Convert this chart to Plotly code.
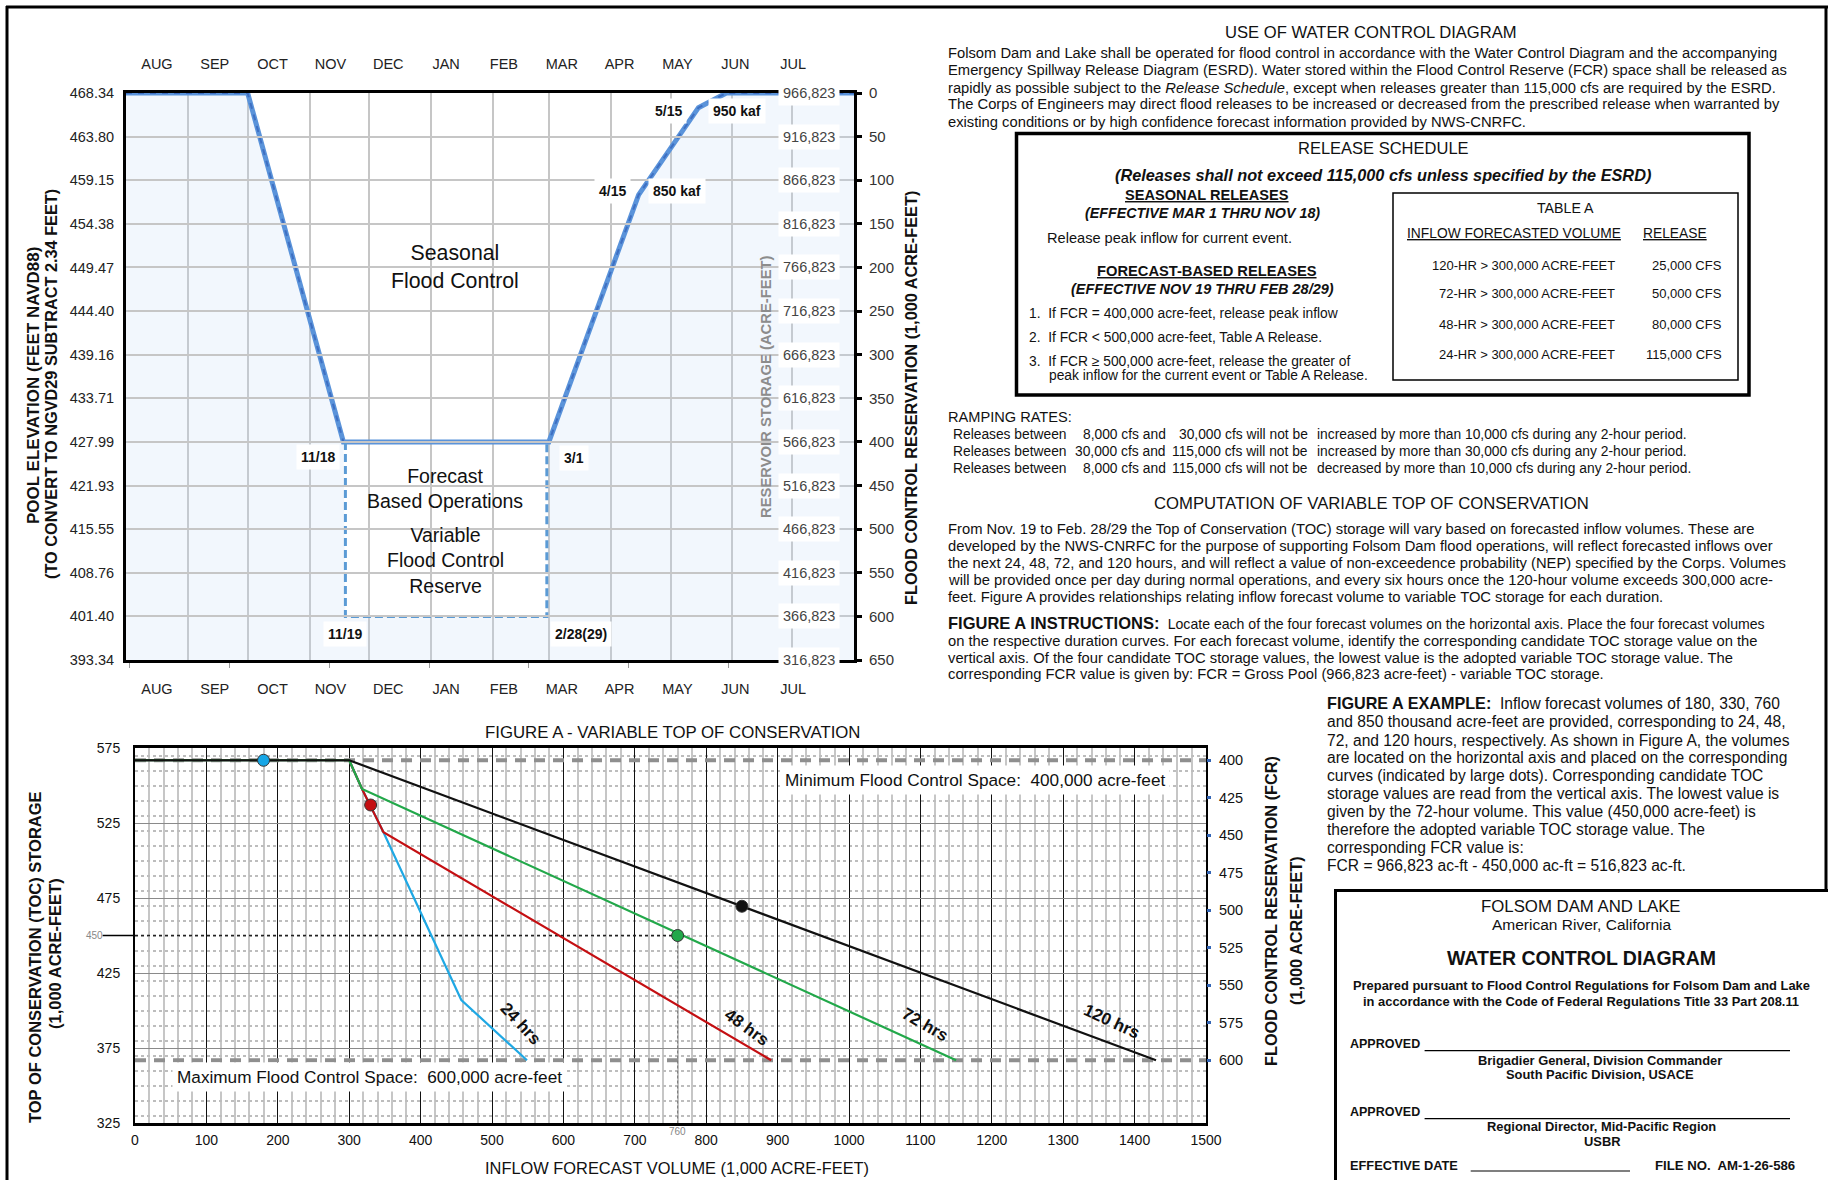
import plotly.graph_objects as go

W, H = 1828, 1180
SANS = "Liberation Sans, Arial, sans-serif"
GROSS_POOL_KAF = 966.823          # gross pool storage, 1,000 acre-feet

# ---------------- Water control diagram (top) ----------------
MONTHS = ["AUG", "SEP", "OCT", "NOV", "DEC", "JAN", "FEB", "MAR", "APR", "MAY", "JUN", "JUL"]
toc_dates = ["2022-08-01", "2022-10-01", "2022-11-18", "2023-03-01",
             "2023-04-15", "2023-05-15", "2023-05-29", "2023-08-01"]
toc_storage_kaf = [966.823, 966.823, 566.823, 566.823, 850.0, 950.0, 966.823, 966.823]
variable_dates = ["2022-11-19", "2023-02-28"]
variable_min_storage_kaf = 366.823
fcr_ticks_kaf = list(range(0, 651, 50))
elevation_labels = ["468.34", "463.80", "459.15", "454.38", "449.47", "444.40", "439.16",
                    "433.71", "427.99", "421.93", "415.55", "408.76", "401.40", "393.34"]

# ---------------- Figure A: variable top of conservation ----------------
inflow_24 = [0, 300, 318, 348, 457, 549]
toc_24 = [566.823, 566.823, 547.7, 518.8, 407.0, 366.823]
inflow_48 = [0, 300, 318, 348, 891]
toc_48 = [566.823, 566.823, 547.7, 518.8, 366.823]
inflow_72 = [0, 300, 318, 1150]
toc_72 = [566.823, 566.823, 547.7, 366.823]
inflow_120 = [0, 300, 1430]
toc_120 = [566.823, 566.823, 366.823]
example_volume = [180, 330, 760, 850]
example_toc = [566.823, 537.0, 450.0, 469.5]
fcr_limits_kaf = [400, 600]
fcr_a_ticks = list(range(400, 601, 25))
adopted_toc = 450
adopted_volume = 760

fcr_kaf = [round(GROSS_POOL_KAF - s, 3) for s in toc_storage_kaf]
variable_fcr = round(GROSS_POOL_KAF - variable_min_storage_kaf, 3)
storage_labels = [f"{int(round((GROSS_POOL_KAF - f) * 1000)):,}" for f in fcr_ticks_kaf]
FCR_MAX = fcr_ticks_kaf[-1]


def X(px):
    return px / W


def Y(py):
    return 1 - py / H


fig = go.Figure()

# conservation pool shading below the top-of-conservation curve
fill_x = toc_dates[:3] + variable_dates + toc_dates[3:] + [toc_dates[-1], toc_dates[0]]
fill_y = fcr_kaf[:3] + [variable_fcr, variable_fcr] + fcr_kaf[3:] + [FCR_MAX, FCR_MAX]
fig.add_trace(go.Scatter(x=fill_x, y=fill_y, fill="toself", mode="none",
                         fillcolor="rgba(196,220,248,0.22)", hoverinfo="skip"))
# top of conservation curve
fig.add_trace(go.Scatter(x=toc_dates, y=fcr_kaf, mode="lines",
                         line=dict(color="#5a93da", width=5), hoverinfo="skip"))
fig.add_trace(go.Scatter(x=toc_dates, y=fcr_kaf, mode="lines",
                         line=dict(color="#3e6fc2", width=2, dash="6px,6px"), hoverinfo="skip"))
# variable flood control reserve box
fig.add_trace(go.Scatter(x=[variable_dates[0], variable_dates[0], variable_dates[1], variable_dates[1]],
                         y=[fcr_kaf[2], variable_fcr, variable_fcr, fcr_kaf[3]], mode="lines",
                         line=dict(color="#5b9bd5", width=3, dash="8px,4px"), hoverinfo="skip"))
# axis carriers
fig.add_trace(go.Scatter(x=[toc_dates[0]], y=[None], yaxis="y2", hoverinfo="skip"))
fig.add_trace(go.Scatter(x=[0], y=[None], xaxis="x3", yaxis="y", hoverinfo="skip"))
fig.add_trace(go.Scatter(x=[0], y=[None], xaxis="x4", yaxis="y", hoverinfo="skip"))

# ---------------- Figure A traces ----------------
for f in fcr_limits_kaf:
    fig.add_trace(go.Scatter(x=[0, 1500], y=[GROSS_POOL_KAF - f] * 2, xaxis="x2", yaxis="y3",
                             mode="lines", line=dict(color="#8f8f8f", width=4, dash="11px,8px"),
                             hoverinfo="skip"))
fig.add_trace(go.Scatter(x=[0, adopted_volume], y=[adopted_toc, adopted_toc], xaxis="x2", yaxis="y3",
                         mode="lines", line=dict(color="#222", width=1.6, dash="dot"), hoverinfo="skip"))
fig.add_trace(go.Scatter(x=[adopted_volume, adopted_volume], y=[adopted_toc, 325], xaxis="x2", yaxis="y3",
                         mode="lines", line=dict(color="#777", width=1, dash="3px,2px"), hoverinfo="skip"))
curves = [(inflow_24, toc_24, "#1fa8e4"), (inflow_48, toc_48, "#c40f12"),
          (inflow_72, toc_72, "#22a84a"), (inflow_120, toc_120, "#111111")]
for xs, ys, c in curves:
    fig.add_trace(go.Scatter(x=xs, y=ys, xaxis="x2", yaxis="y3", mode="lines",
                             line=dict(color=c, width=2.2), hoverinfo="skip"))
fig.add_trace(go.Scatter(x=example_volume, y=example_toc, xaxis="x2", yaxis="y3", mode="markers",
                         marker=dict(size=12, color=["#16a6e6", "#c40f12", "#22a84a", "#111111"],
                                     line=dict(color="#333", width=1)), hoverinfo="skip"))
fig.add_trace(go.Scatter(x=[0], y=[None], xaxis="x2", yaxis="y4", hoverinfo="skip"))

ann = []


def label(x, y, text, size=14.75, color="#111", anchor="left", yanchor="middle", angle=0, **kw):
    ann.append(dict(x=X(x), y=Y(y), xref="paper", yref="paper", text=text, showarrow=False,
                    xanchor=anchor, yanchor=yanchor, textangle=angle,
                    font=dict(family=SANS, size=size, color=color), **kw))


def data_label(x, y, text, xref, yref, size=14, bold=True, bg=None, **kw):
    d = dict(x=x, y=y, xref=xref, yref=yref, text=f"<b>{text}</b>" if bold else text,
             showarrow=False, font=dict(family=SANS, size=size, color="#111"), **kw)
    if bg:
        d.update(bgcolor=bg, borderpad=4)
    ann.append(d)


# ---- top diagram labels ----
data_label("2023-01-13", 200, "Seasonal<br>Flood Control", "x", "y", size=21.3, bold=False)
data_label("2023-01-08", 453, "Forecast<br>Based Operations", "x", "y", size=19.5, bold=False)
data_label("2023-01-08", 536, "Variable<br>Flood Control<br>Reserve", "x", "y", size=19.5, bold=False)
data_label(toc_dates[2], fcr_kaf[2], "11/18", "x", "y", bg="white", xanchor="right", yanchor="top",
           xshift=-3, yshift=-2)
data_label(toc_dates[3], fcr_kaf[3], "3/1", "x", "y", bg="white", xanchor="left", yanchor="top",
           xshift=10, yshift=-3)
data_label(variable_dates[0], variable_fcr, "11/19", "x", "y", bg="white", xanchor="center",
           yanchor="top", yshift=-5)
data_label(variable_dates[1], variable_fcr, "2/28(29)", "x", "y", bg="white", xanchor="left",
           yanchor="top", xshift=3, yshift=-5)
data_label(toc_dates[4], fcr_kaf[4], "4/15", "x", "y", bg="white", xanchor="right", xshift=-8, yshift=4)
data_label(toc_dates[4], fcr_kaf[4], f"{toc_storage_kaf[4]:.0f} kaf", "x", "y", bg="white",
           xanchor="left", xshift=9, yshift=4)
data_label(toc_dates[5], fcr_kaf[5], "5/15", "x", "y", bg="white", xanchor="right", xshift=-11, yshift=-3)
data_label(toc_dates[5], fcr_kaf[5], f"{toc_storage_kaf[5]:.0f} kaf", "x", "y", bg="white",
           xanchor="left", xshift=10, yshift=-3)
for f, s in zip(fcr_ticks_kaf, storage_labels):
    ann.append(dict(x=X(809), y=f, xref="paper", yref="y", text=s, showarrow=False,
                    font=dict(family=SANS, size=14.5, color="#444"), bgcolor="white", borderpad=4))

label(33, 386, "<b>POOL ELEVATION (FEET NAVD88)</b>", 17, anchor="center", angle=-90)
label(51, 384, "<b>(TO CONVERT TO NGVD29 SUBTRACT 2.34 FEET)</b>", 16.3, anchor="center", angle=-90)
label(766, 387, "<b>RESERVOIR STORAGE (ACRE-FEET)</b>", 14.8, color="#8c8c8c", anchor="center", angle=-90)
label(911, 398, "<b>FLOOD CONTROL RESERVATION (1,000 ACRE-FEET)</b>", 16.3, anchor="center", angle=-90)

# ---- Figure A labels ----
label(673, 732, "FIGURE A - VARIABLE TOP OF CONSERVATION", 16.8, anchor="center")
label(677, 1168, "INFLOW FORECAST VOLUME (1,000 ACRE-FEET)", 16.4, anchor="center")
label(35, 957, "<b>TOP OF CONSERVATION (TOC) STORAGE</b>", 16.5, anchor="center", angle=-90)
label(55, 954, "<b>(1,000 ACRE-FEET)</b>", 16.5, anchor="center", angle=-90)
label(1271, 911, "<b>FLOOD CONTROL RESERVATION (FCR)</b>", 16.3, anchor="center", angle=-90)
label(1296, 931, "<b>(1,000 ACRE-FEET)</b>", 16.3, anchor="center", angle=-90)
data_label(1176, 553.7, "Minimum Flood Control Space:\u00a0 400,000 acre-feet", "x2", "y3",
           size=17.2, bold=False, bg="white")
data_label(328.5, 355.7, "Maximum Flood Control Space:\u00a0 600,000 acre-feet", "x2", "y3",
           size=17.2, bold=False, bg="white")
data_label(540, 391.5, "24 hrs", "x2", "y3", size=17, textangle=47)
data_label(857, 389, "48 hrs", "x2", "y3", size=17, textangle=36)
data_label(1106, 390.5, "72 hrs", "x2", "y3", size=17, textangle=30)
data_label(1368, 392.8, "120 hrs", "x2", "y3", size=17, textangle=25)
ann.append(dict(x=X(84), y=adopted_toc, xref="paper", yref="y3", text=str(adopted_toc), showarrow=False,
                font=dict(family=SANS, size=10, color="#888")))
ann.append(dict(x=adopted_volume, y=325, xref="x2", yref="y3", text=str(adopted_volume), showarrow=False,
                yanchor="top", yshift=-1, font=dict(family=SANS, size=10, color="#888")))

# ---- use of water control diagram ----
NB = "\u00a0"
label(1371, 32, "USE OF WATER CONTROL DIAGRAM", 16.6, anchor="center")
use_lines = [
    "Folsom Dam and Lake shall be operated for flood control in accordance with the Water Control Diagram and the accompanying",
    "Emergency Spillway Release Diagram (ESRD). Water stored within the Flood Control Reserve (FCR) space shall be released as",
    "rapidly as possible subject to the <i>Release Schedule</i>, except when releases greater than 115,000 cfs are required by the ESRD.",
    "The Corps of Engineers may direct flood releases to be increased or decreased from the prescribed release when warranted by",
    "existing conditions or by high confidence forecast information provided by NWS-CNRFC.",
]
for yy, t in zip([53, 70.5, 87.5, 104.5, 121.5], use_lines):
    label(946, yy, t)

# ---- release schedule ----
label(1383.6, 148, "RELEASE SCHEDULE", 16.5, anchor="center")
label(1383, 175, "<b><i>(Releases shall not exceed 115,000 cfs unless specified by the ESRD)</i></b>", 16.3, anchor="center")
label(1207, 195, "<b><u>SEASONAL RELEASES</u></b>", 14.6, anchor="center")
label(1202, 213, "<b><i>(EFFECTIVE MAR 1 THRU NOV 18)</i></b>", 14.3, anchor="center")
label(1044.5, 238, "Release peak inflow for current event.", 14.6)
label(1206.6, 271, "<b><u>FORECAST-BASED RELEASES</u></b>", 14.7, anchor="center")
label(1202.6, 289, "<b><i>(EFFECTIVE NOV 19 THRU FEB 28/29)</i></b>", 14.5, anchor="center")
label(1027, 313, f"1.{NB} If FCR = 400,000 acre-feet, release peak inflow", 13.8)
label(1027, 337, f"2.{NB} If FCR &lt; 500,000 acre-feet, Table A Release.", 13.8)
label(1027, 361, f"3.{NB} If FCR ≥ 500,000 acre-feet, release the greater of", 13.8)
label(1047, 376, "peak inflow for the current event or Table A Release.", 13.8)

table_volumes = ["120-HR > 300,000 ACRE-FEET", "72-HR > 300,000 ACRE-FEET",
                 "48-HR > 300,000 ACRE-FEET", "24-HR > 300,000 ACRE-FEET"]
table_releases = ["25,000 CFS", "50,000 CFS", "80,000 CFS", "115,000 CFS"]
label(1565.7, 208, "TABLE A", 14.2, anchor="center")
label(1513.6, 233, "<u>INFLOW FORECASTED VOLUME</u>", 13.8, anchor="center")
label(1674.5, 233, "<u>RELEASE</u>", 13.8, anchor="center")
for yy, v, r in zip([265, 294, 324, 354], table_volumes, table_releases):
    label(1617, yy, v.replace(">", "&gt;"), 13, anchor="right")
    label(1724.4, yy, r, 13, anchor="right")

# ---- ramping rates ----
label(946, 417, "RAMPING RATES:", 14.6)
ramp_rows = [("8,000 cfs and", "30,000 cfs will not be", "increased by more than 10,000 cfs during any 2-hour period."),
             ("30,000 cfs and", "115,000 cfs will not be", "increased by more than 30,000 cfs during any 2-hour period."),
             ("8,000 cfs and", "115,000 cfs will not be", "decreased by more than 10,000 cfs during any 2-hour period.")]
for yy, (a, b, c) in zip([434.7, 451.7, 468.3], ramp_rows):
    label(950.6, yy, "Releases between", 13.8)
    label(1167.7, yy, a, 13.8, anchor="right")
    label(1309.7, yy, b, 13.8, anchor="right")
    label(1315, yy, c, 13.8)

# ---- computation of variable TOC ----
label(1371, 504, "COMPUTATION OF VARIABLE TOP OF CONSERVATION", 16.7, anchor="center")
comp_lines = [
    "From Nov. 19 to Feb. 28/29 the Top of Conservation (TOC) storage will vary based on forecasted inflow volumes. These are",
    "developed by the NWS-CNRFC for the purpose of supporting Folsom Dam flood operations, will reflect forecasted inflows over",
    "the next 24, 48, 72, and 120 hours, and will reflect a value of non-exceedence probability (NEP) specified by the Corps. Volumes",
    "will be provided once per day during normal operations, and every six hours once the 120-hour volume exceeds 300,000 acre-",
    "feet. Figure A provides relationships relating inflow forecast volume to variable TOC storage for each duration.",
]
for yy, t in zip([529.3, 546, 563.3, 580.3, 597.3], comp_lines):
    label(946, yy, t)
instr_lines = [
    f"<span style='font-size:16.5px'><b>FIGURE A INSTRUCTIONS:</b></span>{NB} <span style='font-size:14.1px'>Locate each of the four forecast volumes on the horizontal axis. Place the four forecast volumes</span>",
    "on the respective duration curves. For each forecast volume, identify the corresponding candidate TOC storage value on the",
    "vertical axis. Of the four candidate TOC storage values, the lowest value is the adopted variable TOC storage value. The",
    "corresponding FCR value is given by: FCR = Gross Pool (966,823 acre-feet) - variable TOC storage.",
]
for yy, t in zip([622.7, 640.7, 657.7, 674.3], instr_lines):
    label(946, yy, t)

example_lines = [
    f"<span style='font-size:16.2px'><b>FIGURE A EXAMPLE:</b></span>{NB} Inflow forecast volumes of 180, 330, 760",
    "and 850 thousand acre-feet are provided, corresponding to 24, 48,",
    "72, and 120 hours, respectively. As shown in Figure A, the volumes",
    "are located on the horizontal axis and placed on the corresponding",
    "curves (indicated by large dots). Corresponding candidate TOC",
    "storage values are read from the vertical axis. The lowest value is",
    "given by the 72-hour volume. This value (450,000 acre-feet) is",
    "therefore the adopted variable TOC storage value. The",
    "corresponding FCR value is:",
    "FCR = 966,823 ac-ft - 450,000 ac-ft = 516,823 ac-ft.",
]
for yy, t in zip([703.3, 721.7, 740, 757.7, 775.7, 793.3, 811.7, 829.3, 847.3, 865], example_lines):
    label(1325.3, yy, t, 15.6)

# ---- title block ----
label(1581, 906, "FOLSOM DAM AND LAKE", 16.8, anchor="center")
label(1582, 924, "American River, California", 15.5, anchor="center")
label(1581, 958, "<b>WATER CONTROL DIAGRAM</b>", 19.5, anchor="center")
label(1581, 985.7, "<b>Prepared pursuant to Flood Control Regulations for Folsom Dam and Lake</b>", 12.9, anchor="center")
label(1581, 1001, "<b>in accordance with the Code of Federal Regulations Title 33 Part 208.11</b>", 12.9, anchor="center")
label(1348, 1044.3, "<b>APPROVED</b>", 12.5)
label(1600, 1060, "<b>Brigadier General, Division Commander</b>", 12.9, anchor="center")
label(1600, 1074.3, "<b>South Pacific Division, USACE</b>", 12.9, anchor="center")
label(1348, 1112.3, "<b>APPROVED</b>", 12.5)
label(1601, 1126.7, "<b>Regional Director, Mid-Pacific Region</b>", 12.9, anchor="center")
label(1602, 1141.7, "<b>USBR</b>", 12.9, anchor="center")
label(1348, 1165, "<b>EFFECTIVE DATE</b>", 12.8)
label(1653, 1165, f"<b>FILE NO.{NB} AM-1-26-586</b>", 13.2)

shapes = []


def pline(x0, y0, x1, y1, w=1.2):
    shapes.append(dict(type="line", xref="paper", yref="paper", x0=X(x0), y0=Y(y0), x1=X(x1), y1=Y(y1),
                       line=dict(color="black", width=w)))


def prect(x0, y0, x1, y1, w):
    shapes.append(dict(type="rect", xref="paper", yref="paper", x0=X(x0), y0=Y(y0), x1=X(x1), y1=Y(y1),
                       line=dict(color="black", width=w)))


pline(6, 7, 1828, 7, 3)
pline(7, 6, 7, 1180, 3)
pline(1826, 6, 1826, 890, 3)
prect(1335.5, 890.5, 1840, 1195, 3)
prect(1016.5, 133.5, 1749, 395, 3.5)
prect(1393, 193, 1738, 380, 1.5)
pline(1424.6, 1050.7, 1790, 1050.7)
pline(1424.6, 1118.7, 1790, 1118.7)
pline(1470.7, 1171, 1630, 1171)
shapes.append(dict(type="line", xref="paper", yref="y3", x0=X(102.6), x1=X(135), y0=adopted_toc,
                   y1=adopted_toc, line=dict(color="black", width=1.5)))

grid_c = "#c6c6c6"
fig.update_layout(
    width=W, height=H, margin=dict(l=0, r=0, t=0, b=0, autoexpand=False),
    paper_bgcolor="white", plot_bgcolor="rgba(0,0,0,0)", showlegend=False,
    font=dict(family=SANS, color="#111"),
    annotations=ann, shapes=shapes,
    xaxis=dict(domain=[X(126), X(854)], type="date", range=["2022-08-01", "2023-08-01"],
               tick0="2022-08-01", dtick="M1", showticklabels=False, ticks="", automargin=False,
               showgrid=True, gridcolor=grid_c, gridwidth=1.5, zeroline=False,
               showline=True, linecolor="black", linewidth=3, mirror=True, anchor="y",
               minor=dict(dtick=50 * 86400000, ticks="outside", ticklen=5, tickcolor="#999",
                          showgrid=False)),
    yaxis=dict(domain=[Y(660), Y(93)], range=[FCR_MAX, 0], tickvals=fcr_ticks_kaf, automargin=False,
               ticktext=elevation_labels, ticks="", ticklabelstandoff=6,
               tickfont=dict(size=14.5, color="#222"), showgrid=True, gridcolor=grid_c, gridwidth=1.5,
               zeroline=False, showline=True, linecolor="black", linewidth=3, anchor="x"),
    yaxis2=dict(overlaying="y", side="right", anchor="x", range=[FCR_MAX, 0], tickvals=fcr_ticks_kaf,
                ticktext=[str(v) for v in fcr_ticks_kaf], ticks="outside", ticklen=5, tickwidth=3,
                tickcolor="black", ticklabelstandoff=4, tickfont=dict(size=15, color="#333"),
                automargin=False, showgrid=False, zeroline=False, showline=True, linecolor="black",
                linewidth=3),
    xaxis3=dict(domain=[X(128), X(822)], anchor="free", position=Y(71.5), side="top",
                range=[-0.5, 11.5], tickvals=list(range(12)), ticktext=MONTHS, ticks="",
                automargin=False, showgrid=False, zeroline=False, showline=False,
                tickfont=dict(size=14.5, color="#222")),
    xaxis4=dict(domain=[X(128), X(822)], anchor="free", position=Y(678), side="bottom",
                range=[-0.5, 11.5], tickvals=list(range(12)), ticktext=MONTHS, ticks="",
                automargin=False, showgrid=False, zeroline=False, showline=False,
                tickfont=dict(size=14.5, color="#222")),
    xaxis2=dict(domain=[X(135), X(1206)], range=[0, 1500], tick0=0, dtick=100, anchor="y3",
                automargin=False, showgrid=True, gridcolor="#111", gridwidth=1, zeroline=False,
                showline=True, linecolor="black", linewidth=3, mirror=True, ticks="",
                ticklabelstandoff=2, tickfont=dict(size=14, color="#111"),
                minor=dict(dtick=20, showgrid=True, gridcolor=grid_c, gridwidth=2)),
    yaxis3=dict(domain=[Y(1123), Y(748)], range=[325, 575], tick0=325, dtick=50, anchor="x2",
                automargin=False, showgrid=True, gridcolor="#8a8a8a", gridwidth=1.2, zeroline=False,
                showline=True, linecolor="black", linewidth=2, mirror=True, ticks="",
                ticklabelstandoff=10, tickfont=dict(size=14, color="#111"),
                minor=dict(dtick=10, showgrid=True, gridcolor="#bdbdbd", gridwidth=2, griddash="dot")),
    yaxis4=dict(overlaying="y3", side="right", anchor="x2",
                range=[GROSS_POOL_KAF - 325, GROSS_POOL_KAF - 575], tickvals=fcr_a_ticks,
                ticks="outside", ticklen=4, tickwidth=3, tickcolor="#3566b5", ticklabelstandoff=5,
                automargin=False, tickfont=dict(size=14.5, color="#111"), showgrid=False,
                zeroline=False, showline=False),
)

fig.write_html("out.html")
